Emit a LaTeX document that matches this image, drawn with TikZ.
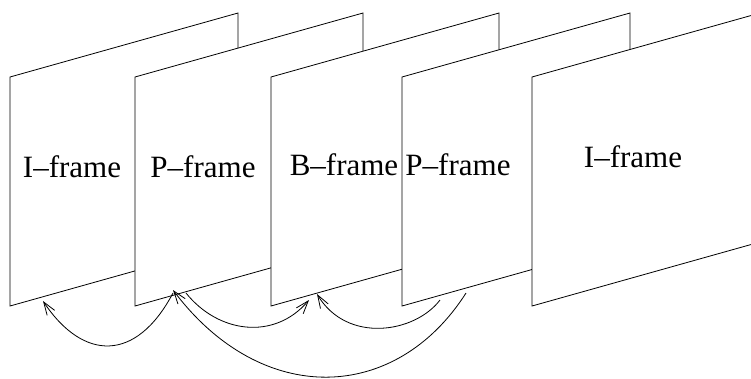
\documentclass[tikz,border=0pt]{standalone}
\usepackage{fontspec}
\setmainfont{Liberation Serif}
\usetikzlibrary{arrows.meta}

\begin{document}
\begin{tikzpicture}[x=1pt,y=-1pt,line width=0.8pt,
    >={Straight Barb[length=13pt,width=9pt]},
    lbl/.style={anchor=base,inner sep=0pt,font=\fontsize{31}{36}\selectfont}]
  \useasboundingbox (0,0) rectangle (751,378);
  \clip (0,0) rectangle (751,378);
  % frames, back to front
  \foreach \x/\n in {10/1,135/2,271/3,402/4,532/5} {
    \draw[fill=white] (\x,77) coordinate (fr\n) -- (\x+228,13) -- (\x+228,242) -- (\x,306) -- cycle;
  }
  \foreach \x/\yb/\t/\n in {72/177/I/1,203/177/P/2,344/175/B/3,458/175/P/4,633/167/I/5}
    \node[lbl] (lab\n) at (\x,\yb) {\t\textendash frame};
  % ends of the arcs
  \coordinate (i1in) at (43,301);
  \coordinate (p2out) at (173,293);
  \coordinate (p2in) at (173,290);
  \coordinate (p2c) at (186,293);
  \coordinate (b3l) at (309,300);
  \coordinate (b3r) at (317,294);
  \coordinate (p4a) at (440,300);
  \coordinate (p4b) at (466,293);
  \draw[->] (p2out) .. controls (136,363) and (83,361) .. (i1in);
  \draw[->] (p4b) .. controls (396,403) and (262,408) .. (p2in);
  \draw[->] (p2c) .. controls (218,333) and (274,341) .. (b3l);
  \draw[->] (p4a) .. controls (415,333) and (347,344) .. (b3r);
\end{tikzpicture}
\end{document}
